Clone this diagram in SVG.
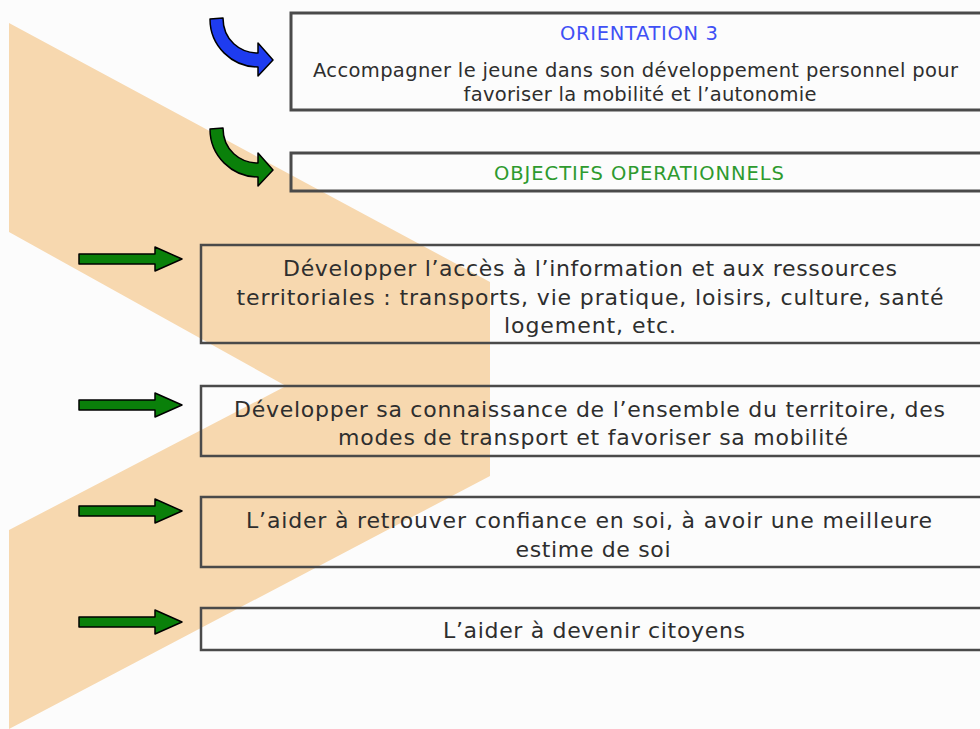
<svg xmlns="http://www.w3.org/2000/svg" width="980" height="729" viewBox="0 0 980 729">
<style>
.box{fill:none;stroke:#4a4a4a;stroke-width:2.5}
.t{font-family:"DejaVu Sans",Verdana,sans-serif;fill:#2e2e2e;text-anchor:middle}
.s18{font-size:19.5px}
.s21{font-size:22px}
.arr{stroke:#000;stroke-width:1.5;stroke-linejoin:round}
</style>
<defs>
<path id="curve" d="M210,19 C210,46 232,67 258,67 L258,76 L273,60 L258,43 L258,53 C240,53 223,40 223,18 Z"/>
<path id="straight" d="M79,-5 L155,-5 L155,-12 L182,0 L155,12 L155,5 L79,5 Z"/>
</defs>
<rect width="980" height="729" fill="#fcfcfc"/>
<polygon points="9,23 490,282 490,476 9,729 9,530 286,386 9,232" fill="#f7d8af"/>
<g id="connectors">
<use href="#curve" fill="#1e3cf0" class="arr"/>
<use href="#curve" fill="#0a800a" class="arr" transform="translate(0,110)"/>
<use href="#straight" fill="#0a800a" class="arr" transform="translate(0,259)"/>
<use href="#straight" fill="#0a800a" class="arr" transform="translate(0,405)"/>
<use href="#straight" fill="#0a800a" class="arr" transform="translate(0,511)"/>
<use href="#straight" fill="#0a800a" class="arr" transform="translate(0,622)"/>
</g>
<g id="orientation">
<rect class="box" x="291" y="13" width="700" height="97" style="stroke-width:3"/>
<text class="t s18" x="639" y="40" style="fill:#3f50f5" textLength="158" lengthAdjust="spacing">ORIENTATION 3</text>
<text class="t s18" x="635.5" y="77" textLength="645" lengthAdjust="spacing">Accompagner le jeune dans son développement personnel pour</text>
<text class="t s18" x="640" y="101" textLength="353" lengthAdjust="spacing">favoriser la mobilité et l’autonomie</text>
</g>
<g id="objectifs">
<rect class="box" x="291" y="153" width="700" height="38" style="stroke-width:3"/>
<text class="t s18" x="639" y="180" style="fill:#2e9a2e" textLength="290" lengthAdjust="spacing">OBJECTIFS OPERATIONNELS</text>
</g>
<g id="obj1">
<rect class="box" x="201" y="245" width="790" height="98"/>
<text class="t s21" x="590" y="276" textLength="614" lengthAdjust="spacing">Développer l’accès à l’information et aux ressources</text>
<text class="t s21" x="590" y="305" textLength="707" lengthAdjust="spacing">territoriales : transports, vie pratique, loisirs, culture, santé</text>
<text class="t s21" x="590" y="333" textLength="172" lengthAdjust="spacing">logement, etc.</text>
</g>
<g id="obj2">
<rect class="box" x="201" y="386" width="790" height="70"/>
<text class="t s21" x="589.5" y="417" textLength="711" lengthAdjust="spacing">Développer sa connaissance de l’ensemble du territoire, des</text>
<text class="t s21" x="593" y="445" textLength="510" lengthAdjust="spacing">modes de transport et favoriser sa mobilité</text>
</g>
<g id="obj3">
<rect class="box" x="201" y="497" width="790" height="70"/>
<text class="t s21" x="589" y="528" textLength="686" lengthAdjust="spacing">L’aider à retrouver confiance en soi, à avoir une meilleure</text>
<text class="t s21" x="593" y="557" textLength="155" lengthAdjust="spacing">estime de soi</text>
</g>
<g id="obj4">
<rect class="box" x="201" y="608" width="790" height="42"/>
<text class="t s21" x="594" y="638" textLength="302" lengthAdjust="spacing">L’aider à devenir citoyens</text>
</g>
</svg>
